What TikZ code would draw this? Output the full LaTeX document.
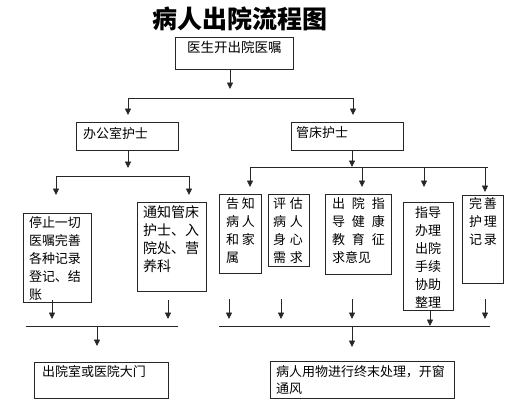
\documentclass[tikz,border=0pt]{standalone}
\usepackage{fontspec}
\setmainfont{Noto Sans CJK SC}
\usetikzlibrary{arrows.meta}
\begin{document}
\begin{tikzpicture}[x=1pt,y=-1pt,
  box/.style={draw=black!85, line width=0.8pt, inner sep=0pt, outer sep=0pt},
  txt/.style={anchor=base west, inner sep=0pt, outer sep=0pt, font=\fontsize{13}{18}\selectfont},
  arr/.style={draw=black!85, line width=0.8pt, -{Triangle[length=6.5pt,width=6pt]}},
  ln/.style={draw=black!85, line width=0.8pt}]
\useasboundingbox (0,0) rectangle (531,416);

% title
\node[anchor=base, inner sep=0pt, font=\fontsize{25}{28}\selectfont\bfseries] (title) at (240,28.5) {病人出院流程图};

% boxes
\node[box, minimum width=118pt, minimum height=32pt] (b0) at (234,53) {};
\node[box, minimum width=102pt, minimum height=28pt] (b1) at (127,136) {};
\node[box, minimum width=112pt, minimum height=28pt] (b2) at (347,136) {};
\node[box, minimum width=68pt, minimum height=89pt] (b3) at (57,257.5) {};
\node[box, minimum width=69pt, minimum height=89pt] (b4) at (171.5,246.5) {};
\node[box, minimum width=42pt, minimum height=79pt] (b5) at (240,233.5) {};
\node[box, minimum width=41pt, minimum height=72pt] (b6) at (288.5,230) {};
\node[box, minimum width=66pt, minimum height=80pt] (b7) at (358,234) {};
\node[box, minimum width=50pt, minimum height=108pt] (b8) at (428,256) {};
\node[box, minimum width=41pt, minimum height=88pt] (b9) at (482.5,239) {};
\node[box, minimum width=134pt, minimum height=36pt] (b10) at (101,380) {};
\node[box, minimum width=184pt, minimum height=37pt] (b11) at (362,379.5) {};

% texts
\node[txt, font=\fontsize{13.5}{18}\selectfont] (t0) at (187,52) {医生开出院医嘱};
\node[txt] (t1) at (83,138) {办公室护士};
\node[txt] (t2) at (296,137) {管床护士};
\node[txt] (t3) at (29,227) {\begin{tabular}[t]{@{}l@{}}停止一切\\医嘱完善\\各种记录\\登记、结\\账\end{tabular}};
\node[txt, font=\fontsize{14}{18}\selectfont] (t4) at (143,217) {\begin{tabular}[t]{@{}l@{}}通知管床\\护士、入\\院处、营\\养科\end{tabular}};
\node[txt] (t5) at (226,208) {\begin{tabular}[t]{@{}l@{}}\makebox[29pt][s]{告\hfill 知}\\\makebox[29pt][s]{病\hfill 人}\\\makebox[29pt][s]{和\hfill 家}\\属\end{tabular}};
\node[txt] (t6) at (273,208) {\begin{tabular}[t]{@{}l@{}}\makebox[30pt][s]{评\hfill 估}\\\makebox[30pt][s]{病\hfill 人}\\\makebox[30pt][s]{身\hfill 心}\\\makebox[30pt][s]{需\hfill 求}\end{tabular}};
\node[txt] (t7) at (332,208) {\begin{tabular}[t]{@{}l@{}}\makebox[53pt][s]{出\hfill 院\hfill 指}\\\makebox[53pt][s]{导\hfill 健\hfill 康}\\\makebox[53pt][s]{教\hfill 育\hfill 征}\\求意见\end{tabular}};
\node[txt] (t8) at (415,217) {\begin{tabular}[t]{@{}l@{}}指导\\办理\\出院\\手续\\协助\\整理\end{tabular}};
\node[txt] (t9) at (469,208) {\begin{tabular}[t]{@{}l@{}}\makebox[28pt][s]{完\hfill 善}\\\makebox[28pt][s]{护\hfill 理}\\\makebox[28pt][s]{记\hfill 录}\end{tabular}};
\node[txt] (t10) at (42,376) {出院室或医院大门};
\node[txt, font=\fontsize{13}{17.5}\selectfont] (t11) at (276,376) {\begin{tabular}[t]{@{}l@{}}病人用物进行终末处理，开窗\\通风\end{tabular}};

% junction coordinates
\coordinate (a0) at (230,89);
\coordinate (l1a) at (128,98);
\coordinate (l1b) at (353,98);
\coordinate (a1) at (128,115);
\coordinate (a2) at (353,115);
\coordinate (a3) at (128,168);
\coordinate (l2a) at (56,176);
\coordinate (l2b) at (189,176);
\coordinate (a4) at (56,195);
\coordinate (a5) at (189,195);
\coordinate (l3a) at (250,167);
\coordinate (l3m) at (352,167);
\coordinate (l3b) at (488,167);
\coordinate (r1) at (362,167);
\coordinate (r2) at (424,167);
\coordinate (r3) at (485,167);
\coordinate (r0e) at (250,187);
\coordinate (r1e) at (362,187);
\coordinate (r2e) at (424,187);
\coordinate (r3e) at (485,192);
% bottom left
\coordinate (s1) at (52,300);
\coordinate (s1e) at (52,319);
\coordinate (s2) at (168,300);
\coordinate (s2e) at (168,319);
\coordinate (l4a) at (26,326);
\coordinate (l4b) at (178,326);
\coordinate (l4m) at (97,326);
\coordinate (l4e) at (97,346);
% bottom right
\coordinate (u1) at (229,299);
\coordinate (u1e) at (229,319);
\coordinate (u2) at (281,299);
\coordinate (u2e) at (281,319);
\coordinate (u3) at (352,299);
\coordinate (u3e) at (352,319);
\coordinate (u4) at (485,299);
\coordinate (u4e) at (485,319);
\coordinate (u5e) at (430,326);
\coordinate (l5a) at (219,326);
\coordinate (l5b) at (490,326);
\coordinate (l5m) at (352,326);
\coordinate (l5e) at (352,347);

% connectors
\draw[arr] (b0.south -| a0) -- (a0);
\draw[ln] (l1a) -- (l1b);
\draw[arr] (l1a) -- (a1);
\draw[arr] (l1b) -- (a2);
\draw[arr] (b1.south -| a3) -- (a3);
\draw[ln] (l2a) -- (l2b);
\draw[arr] (l2a) -- (a4);
\draw[arr] (l2b) -- (a5);
\draw[arr] (b2.south -| l3m) -- (l3m);
\draw[ln] (l3a) -- (l3b);
\draw[arr] (l3a) -- (r0e);
\draw[arr] (r1) -- (r1e);
\draw[arr] (r2) -- (r2e);
\draw[arr] (r3) -- (r3e);
\draw[arr] (s1) -- (s1e);
\draw[arr] (s2) -- (s2e);
\draw[ln] (l4a) -- (l4b);
\draw[arr] (l4m) -- (l4e);
\draw[arr] (u1) -- (u1e);
\draw[arr] (u2) -- (u2e);
\draw[arr] (u3) -- (u3e);
\draw[arr] (u4) -- (u4e);
\draw[arr] (b8.south -| u5e) -- (u5e);
\draw[ln] (l5a) -- (l5b);
\draw[arr] (l5m) -- (l5e);
\end{tikzpicture}
\end{document}
